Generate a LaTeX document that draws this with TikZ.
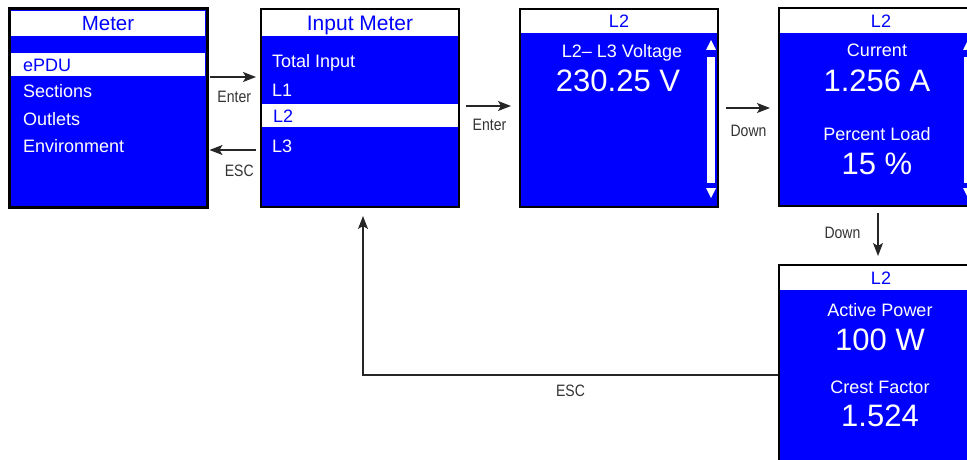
\documentclass[tikz,border=0pt]{standalone}
\usepackage{fontspec}
\setmainfont{Liberation Sans}
\newfontfamily\keyfont[FakeStretch=0.85]{Liberation Sans}
\usetikzlibrary{arrows.meta,positioning}
\definecolor{lcdblue}{RGB}{0,0,255}

\begin{document}
\begin{tikzpicture}[x=1pt, y=-1pt,
  scr/.style={draw, line width=2pt, fill=lcdblue, minimum width=198pt, minimum height=198pt, inner sep=0pt},
  bar/.style={fill=white, inner sep=0pt, minimum width=196pt, anchor=north},
  head/.style={bar, minimum height=25pt, text depth=0pt, text=lcdblue, font=\fontsize{18}{18}\selectfont},
  item/.style={anchor=base west, inner sep=0pt, text=white, font=\fontsize{18}{18}\selectfont},
  lab/.style={anchor=base, inner sep=0pt, text=white, font=\fontsize{18}{18}\selectfont},
  val/.style={anchor=base, inner sep=0pt, text=white, font=\fontsize{31}{31}\selectfont},
  key/.style={inner sep=0pt, text=black!80, font=\keyfont\fontsize{16.5}{16.5}\selectfont},
  nav/.style={-{Stealth[length=13pt,width=10pt,inset=3pt]}, line width=1.3pt, black!85}]
  \clip (0,0) rectangle (967,460);
  \node[scr, line width=3pt] (meter) at (108,108) {};
  \node[scr] (input) at (360,108) {};
  \node[scr] (volt) at (619,108) {};
  \node[scr, minimum width=204pt] (cur) at (881,107) {};
  \node[scr, minimum width=204pt] (pwr) at (881,364) {};

  \node[head, minimum width=194pt, font=\fontsize{20.5}{20.5}\selectfont] (meterhead) at (108,11) {Meter};
  \node[bar, minimum width=194pt, minimum height=23pt] (meterbar) at (108,53) {};
  \node[item, text=lcdblue] (epdu) at (23,71) {ePDU};
  \node[item] (sections) at (23,98) {Sections};
  \node[item] (outlets) at (23,125) {Outlets};
  \node[item] (environ) at (23,152) {Environment};

  \node[head, minimum height=26pt, font=\fontsize{21}{21}\selectfont] (inputhead) at (360,10) {Input Meter};
  \node[bar, minimum height=23pt] (inputbar) at (360,104) {};
  \node[item] (total) at (272,68) {Total Input};
  \node[item] (lone) at (272,96) {L1};
  \node[item, text=lcdblue] (ltwo) at (273,122) {L2};
  \node[item] (lthree) at (272,152) {L3};

  \node[head, minimum height=23pt] (volthead) at (619,10) {L2};
  \node[lab] (voltlab) at (622,58) {L2– L3 Voltage};
  \node[val] (voltval) at (618,92) {230.25 V};

  \node[head, minimum width=202pt, minimum height=24pt] (curhead) at (881,9) {L2};
  \node[lab] (curlab) at (877,57) {Current};
  \node[val] (curval) at (877,92) {1.256 A};
  \node[lab] (loadlab) at (877,140) {Percent Load};
  \node[val] (loadval) at (877,174) {15 \%};

  \node[head, minimum width=202pt, minimum height=24pt] (pwrhead) at (881,266) {L2};
  \node[lab] (pwrlab) at (880,316) {Active Power};
  \node[val] (pwrval) at (880,350) {100 W};
  \node[lab] (crestlab) at (880,393) {Crest Factor};
  \node[val] (crestval) at (880,426) {1.524};

  \foreach \sx in {711,968} {
    \fill[white] (\sx-4,57) rectangle (\sx+4,183);
    \fill[white] (\sx,40) -- (\sx+5,50) -- (\sx-5,50) -- cycle;
    \fill[white] (\sx-5,188) -- (\sx+5,188) -- (\sx,198) -- cycle;
  }

  \coordinate (escturn) at (363,375);
  \draw[nav, shorten <=1pt, shorten >=4pt] ([yshift=31pt]meter.east) -- ([yshift=31pt]input.west) node[key, midway, below=13pt] {Enter};
  \draw[nav, shorten <=4pt, shorten >=1pt] ([yshift=-42pt]input.west) -- ([yshift=-42pt]meter.east) node[key, midway, below=14.5pt, xshift=5pt] {ESC};
  \draw[nav, shorten <=6pt, shorten >=8pt] ([yshift=2pt]input.east) -- ([yshift=2pt]input.east -| volt.west) node[key, midway, below=12.5pt] {Enter};
  \draw[nav, shorten <=7pt, shorten >=8pt] (volt.east) -- (volt.east -| cur.west) node[key, midway, below=16.5pt] {Down};
  \draw[nav, shorten <=6pt, shorten >=8pt] ([xshift=-3pt]cur.south) -- ([xshift=-3pt]pwr.north) node[key, midway, left=17pt, yshift=3pt] {Down};
  \draw[nav, shorten >=8pt] (pwr.west |- escturn) -- (escturn) node[key, midway, below=9.5pt] {ESC} -- (escturn |- input.south);
\end{tikzpicture}
\end{document}
